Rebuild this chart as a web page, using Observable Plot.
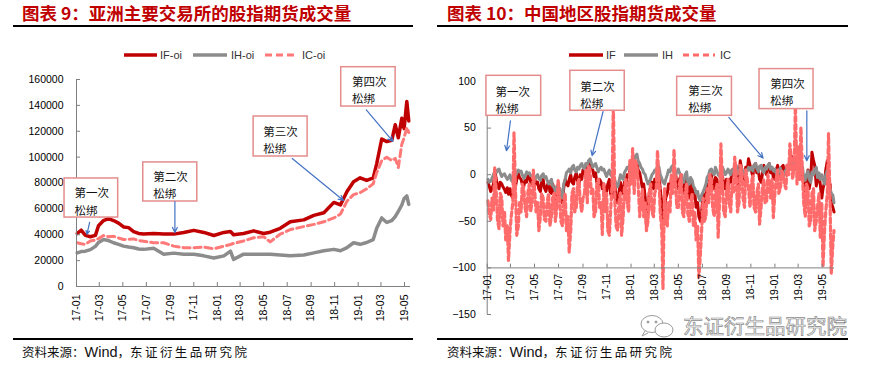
<!DOCTYPE html>
<html lang="zh">
<head>
<meta charset="utf-8">
<script src="https://cdn.jsdelivr.net/npm/d3@7"></script>
<script src="https://cdn.jsdelivr.net/npm/@observablehq/plot@0.6"></script>
<style>
  html,body{margin:0;padding:0;background:#fff;}
  #page{position:relative;width:878px;height:367px;overflow:hidden;background:#fff;}
  .title{position:absolute;top:0px;font-family:"Noto Sans CJK SC",sans-serif;font-weight:700;font-size:17.5px;line-height:26px;color:#C00000;white-space:nowrap;}
  .hr{position:absolute;height:1.5px;background:#000;}
  .src{position:absolute;top:342px;font-family:"Noto Sans CJK SC",sans-serif;font-size:12.5px;line-height:20px;color:#111;white-space:nowrap;}
  .src .lat{font-family:"Liberation Sans",Arial,sans-serif;font-size:14.5px;}
  .src .sp{letter-spacing:2.4px;}
  .chart{position:absolute;top:0;}
  #deco{position:absolute;left:0;top:0;pointer-events:none;}
  .wm{position:absolute;left:683px;top:311px;font-family:"Noto Sans CJK SC",sans-serif;font-size:20.5px;line-height:28px;color:#f2f2f2;-webkit-text-stroke:0.7px #8c8c8c;white-space:nowrap;}
</style>
</head>
<body>
<div id="page">
  <div class="title" style="left:22px">图表 9：亚洲主要交易所的股指期货成交量</div>
  <div class="title" style="left:447px">图表 10：中国地区股指期货成交量</div>
  <div class="hr" style="left:13px;top:25px;width:400px"></div>
  <div class="hr" style="left:437px;top:25px;width:411px"></div>
  <div id="left" class="chart" style="left:0px"></div>
  <div id="right" class="chart" style="left:440px"></div>
  <svg id="deco" width="878" height="367">
    <g font-family="Liberation Sans, Arial, sans-serif" font-size="11" fill="#333">
      <line x1="124" x2="157" y1="55" y2="55" stroke="#C00000" stroke-width="3.5"/>
      <text x="160" y="59">IF-oi</text>
      <line x1="193" x2="227" y1="55" y2="55" stroke="#8C8C8C" stroke-width="3.5"/>
      <text x="231" y="59">IH-oi</text>
      <line x1="265" x2="297" y1="55" y2="55" stroke="#FF7979" stroke-width="3" stroke-dasharray="7,4"/>
      <text x="302" y="59">IC-oi</text>
      <line x1="569" x2="603" y1="55" y2="55" stroke="#C00000" stroke-width="3.5"/>
      <text x="606" y="59">IF</text>
      <line x1="624" x2="658" y1="55" y2="55" stroke="#8C8C8C" stroke-width="3.5"/>
      <text x="662" y="59">IH</text>
      <line x1="683" x2="715" y1="55" y2="55" stroke="#FF6B6B" stroke-width="3" stroke-dasharray="6,4"/>
      <text x="720" y="59">IC</text>
    </g>
    <g fill="none" stroke="#9a9a9a" stroke-width="1">
      <ellipse cx="652" cy="324" rx="11" ry="8.5"/>
      <path d="M645 331 l-3 5 l6 -3"/>
      <ellipse cx="664" cy="330" rx="9" ry="7" fill="#fff"/>
      <circle cx="648" cy="322" r="1" fill="#9a9a9a"/>
      <circle cx="656" cy="322" r="1" fill="#9a9a9a"/>
    </g>
  </svg>
  <div class="wm">东证衍生品研究院</div>
  <div class="hr" style="left:13px;top:338px;width:400px"></div>
  <div class="hr" style="left:437px;top:338px;width:411px"></div>
  <div class="src" style="left:22px">资料来源：<span class="lat">Wind</span>，<span class="sp">东证衍生品研究院</span></div>
  <div class="src" style="left:447px">资料来源：<span class="lat">Wind</span>，<span class="sp">东证衍生品研究院</span></div>
</div>
<script>
// ---------- shared tick labels ----------
const monthTicks = ["2017-01-01","2017-03-01","2017-05-01","2017-07-01","2017-09-01","2017-11-01",
  "2018-01-01","2018-03-01","2018-05-01","2018-07-01","2018-09-01","2018-11-01",
  "2019-01-01","2019-03-01","2019-05-01"];

// ---------- Chart 9: open interest (left) ----------
const leftDates = ["2017-01-03","2017-01-13","2017-01-24","2017-02-06","2017-02-19","2017-02-27","2017-03-12","2017-03-25",
  "2017-04-07","2017-04-20","2017-05-03","2017-05-16","2017-05-29","2017-06-11","2017-06-24","2017-07-20","2017-08-15",
  "2017-09-10","2017-10-06","2017-11-01","2017-11-27","2017-12-23","2018-01-18","2018-02-04","2018-02-12","2018-03-10",
  "2018-04-05","2018-05-01","2018-05-18","2018-06-13","2018-07-09","2018-08-13","2018-09-08","2018-10-04","2018-10-30",
  "2018-11-16","2018-12-03","2018-12-20","2019-01-06","2019-01-23","2019-02-09","2019-02-18","2019-03-03","2019-03-16",
  "2019-03-29","2019-04-07","2019-04-15","2019-04-24","2019-04-30","2019-05-07","2019-05-12"];
const leftIF = [41000,43500,39500,38500,39500,47000,51000,52500,51000,49000,46000,45500,42500,41000,40500,41000,40500,
  40500,41800,43400,41800,39400,41800,42500,40000,41000,43000,41000,42000,45000,50000,51500,55000,57000,65000,
  63000,73500,81000,84000,82000,84000,95000,114000,112000,113000,125000,115000,130000,122000,143000,128000];
const leftIH = [26000,27000,27300,28500,31000,34000,36300,35500,33800,32500,31200,30500,30000,29000,28700,29500,25000,
  25800,25000,25000,23700,22000,23700,27300,21000,25000,25000,25000,25000,24300,23700,24300,26000,27600,28700,
  27600,30000,33800,32600,34000,36300,45000,53000,49500,51000,54000,58000,63000,68000,70000,63500];
const leftIC = [33800,33000,32600,35200,36000,37000,39400,38500,38800,37500,36300,36500,36800,35500,35000,33800,33800,
  31200,30000,30000,30400,29200,31200,32500,33300,35200,37700,38500,34500,40500,44000,46300,48000,50000,53000,
  56000,66000,71000,72500,75500,79400,88000,97300,99900,97300,99000,92000,110000,115000,123000,119000];
const leftYTicks = [0,20000,40000,60000,80000,100000,120000,140000,160000];

// ---------- Chart 10 (right): Friday readings ----------
const rightDates = [
  "2017-01-06","2017-01-13","2017-01-20","2017-01-27","2017-02-03","2017-02-10","2017-02-17","2017-02-24",
  "2017-03-03","2017-03-10","2017-03-17","2017-03-24","2017-03-31","2017-04-07","2017-04-14","2017-04-21","2017-04-28",
  "2017-05-05","2017-05-12","2017-05-19","2017-05-26","2017-06-02","2017-06-09","2017-06-16","2017-06-23","2017-06-30",
  "2017-07-07","2017-07-14","2017-07-21","2017-07-28","2017-08-04","2017-08-11","2017-08-18","2017-08-25",
  "2017-09-01","2017-09-08","2017-09-15","2017-09-22","2017-09-29","2017-10-06","2017-10-13","2017-10-20","2017-10-27",
  "2017-11-03","2017-11-10","2017-11-17","2017-11-24","2017-12-01","2017-12-08","2017-12-15","2017-12-22","2017-12-29",
  "2018-01-05","2018-01-12","2018-01-19","2018-01-26","2018-02-02","2018-02-09","2018-02-16","2018-02-23",
  "2018-03-02","2018-03-09","2018-03-16","2018-03-23","2018-03-30","2018-04-06","2018-04-13","2018-04-20","2018-04-27",
  "2018-05-04","2018-05-11","2018-05-18","2018-05-25","2018-06-01","2018-06-08","2018-06-15","2018-06-22","2018-06-29",
  "2018-07-06","2018-07-13","2018-07-20","2018-07-27","2018-08-03","2018-08-10","2018-08-17","2018-08-24","2018-08-31",
  "2018-09-07","2018-09-14","2018-09-21","2018-09-28","2018-10-05","2018-10-12","2018-10-19","2018-10-26",
  "2018-11-02","2018-11-09","2018-11-16","2018-11-23","2018-11-30","2018-12-07","2018-12-14","2018-12-21","2018-12-28",
  "2019-01-04","2019-01-11","2019-01-18","2019-01-25","2019-02-01","2019-02-08","2019-02-15","2019-02-22",
  "2019-03-01","2019-03-08","2019-03-15","2019-03-22","2019-03-29","2019-04-05","2019-04-12","2019-04-19","2019-04-26",
  "2019-05-03","2019-05-10","2019-05-17","2019-05-24","2019-05-31"];
const rightIF = [
  -12,-15,5,-12,-8,-13,-19,-21,
  -22,-18,-5,-3,-10,-6,-2,-8,-4,
  -10,-15,-8,-14,-12,-18,-10,-25,-22,
  -28,-15,-10,-5,-8,-3,-6,0,
  5,10,12,6,-2,-8,-5,-15,-20,
  -10,-20,-15,-28,-20,-15,-8,0,5,
  10,12,5,-5,-10,-55,-20,-8,
  -5,5,-15,-50,-25,-10,-5,0,-10,
  -5,-15,-8,-20,-12,-25,-35,-45,-40,
  -30,-10,-5,-12,-3,-15,-8,-10,-5,
  -5,5,12,-10,15,0,8,17,
  5,10,2,-5,0,5,8,2,-3,
  5,2,8,0,10,18,10,15,
  20,10,-10,-5,-15,24,10,-5,-10,
  -15,5,-20,-30,-40];
const rightIH = [
  -8,-4,3,5,2,0,-2,-3,
  -6,-3,2,3,0,-2,1,-1,-3,
  -2,-4,-1,-3,-6,-8,-12,-18,-20,
  -22,-10,2,6,8,5,8,10,
  8,12,15,13,10,8,6,5,2,
  2,0,-5,-10,-8,-3,2,8,12,
  18,20,15,8,2,-5,-8,0,
  5,10,0,-8,-5,5,8,2,3,
  2,-5,0,-8,-3,-12,-20,-25,-22,
  -15,-3,5,2,8,0,3,5,2,
  3,5,8,4,6,2,5,8,
  8,10,7,9,5,8,10,6,4,
  2,5,0,3,8,15,12,10,
  10,5,-2,0,-5,3,5,-3,-5,
  -5,0,-10,-20,-30];
const rightIC = [
  -42,-25,8,-48,-20,-55,-70,-92,
  -45,45,-65,-30,-10,-35,-20,-40,5,
  -40,-60,-20,-48,-30,-55,-25,-50,-5,
  -50,-30,-60,-83,-20,-40,-10,-30,
  -25,5,10,-20,-45,-10,-35,-64,-40,
  -60,-40,75,-55,-30,-65,-15,-30,15,
  28,15,-10,-30,-45,-60,-20,-40,
  -20,26,-40,-122,-50,-30,0,27,-35,
  -10,-40,-20,-42,-30,-55,-70,-110,-60,
  -50,-15,0,-35,-20,-67,33,-40,-20,
  -30,-10,19,-40,10,-25,5,-15,
  -10,-35,-20,-53,-15,-30,0,-25,-46,
  -5,-20,4,-10,10,33,-5,77,
  30,51,-30,-10,-55,-20,-60,-35,-67,
  -99,-40,44,-106,-60];

// ---------- Chart 10 (right): Tuesday readings ----------
const rightDatesTue = [
  "2017-01-03","2017-01-10","2017-01-17","2017-01-24","2017-01-31","2017-02-07","2017-02-14","2017-02-21",
  "2017-02-28","2017-03-07","2017-03-14","2017-03-21","2017-03-28","2017-04-04","2017-04-11","2017-04-18","2017-04-25",
  "2017-05-02","2017-05-09","2017-05-16","2017-05-23","2017-05-30","2017-06-06","2017-06-13","2017-06-20","2017-06-27",
  "2017-07-04","2017-07-11","2017-07-18","2017-07-25","2017-08-01","2017-08-08","2017-08-15","2017-08-22",
  "2017-08-29","2017-09-05","2017-09-12","2017-09-19","2017-09-26","2017-10-03","2017-10-10","2017-10-17","2017-10-24",
  "2017-10-31","2017-11-07","2017-11-14","2017-11-21","2017-11-28","2017-12-05","2017-12-12","2017-12-19","2017-12-26",
  "2018-01-02","2018-01-09","2018-01-16","2018-01-23","2018-01-30","2018-02-06","2018-02-13","2018-02-20",
  "2018-02-27","2018-03-06","2018-03-13","2018-03-20","2018-03-27","2018-04-03","2018-04-10","2018-04-17","2018-04-24",
  "2018-05-01","2018-05-08","2018-05-15","2018-05-22","2018-05-29","2018-06-05","2018-06-12","2018-06-19","2018-06-26",
  "2018-07-03","2018-07-10","2018-07-17","2018-07-24","2018-07-31","2018-08-07","2018-08-14","2018-08-21","2018-08-28",
  "2018-09-04","2018-09-11","2018-09-18","2018-09-25","2018-10-02","2018-10-09","2018-10-16","2018-10-23",
  "2018-10-30","2018-11-06","2018-11-13","2018-11-20","2018-11-27","2018-12-04","2018-12-11","2018-12-18","2018-12-25",
  "2019-01-01","2019-01-08","2019-01-15","2019-01-22","2019-01-29","2019-02-05","2019-02-12","2019-02-19",
  "2019-02-26","2019-03-05","2019-03-12","2019-03-19","2019-03-26","2019-04-02","2019-04-09","2019-04-16","2019-04-23",
  "2019-04-30","2019-05-07","2019-05-14","2019-05-21","2019-05-28"];
const rightIFTue = [
  -8,-18,-10,-5,-15,-10,-16,-14,
  -15,-25,-12,2,-5,-12,-8,0,-10,
  -5,-8,-18,-5,-18,-8,-20,-15,-30,
  -15,-30,-5,-12,0,-10,2,-10,
  -5,2,5,14,5,2,-12,-8,-10,
  -18,-5,-25,-10,-30,-8,-20,-10,-3,
  0,5,12,2,-15,-25,-40,-12,
  -15,-10,0,-30,-40,-20,-15,-8,2,
  -15,0,-20,-5,-25,-8,-20,-30,-50,
  -20,-25,-15,0,-15,-5,-18,-2,-15,
  -12,-8,0,5,-5,5,-5,5,
  10,-2,12,5,-8,10,0,12,5,
  -5,10,-3,10,2,5,20,5,
  8,25,0,-18,5,-5,15,-12,0,
  -25,-8,15,-10,-35];
const rightIHTue = [
  -5,-7,0,2,6,-2,1,-5,
  0,-8,-1,5,4,-4,3,2,-1,
  -5,0,-6,1,-2,-10,-5,-14,-12,
  -15,-25,-5,4,2,10,3,6,
  12,6,10,17,8,12,3,8,6,
  -2,5,-2,-6,-13,0,-5,5,6,
  14,16,22,12,6,0,-10,-4,
  2,4,8,-4,-10,0,3,10,0,
  6,-2,-8,3,-10,-6,-15,-18,-28,
  -18,-10,0,6,0,4,-2,8,0,
  6,0,3,10,1,7,0,4,
  5,4,12,3,10,2,6,12,8,
  6,-2,7,-2,5,10,16,6,
  14,2,8,-6,4,-8,0,8,2,
  0,-10,5,-15,-22];
const rightICTue = [
  -28,-48,-38,-20,-58,-25,-40,-55,
  -60,-30,-20,-55,-40,-15,-45,-10,-30,
  -20,-30,-45,-25,-50,-20,-45,-20,-35,
  -25,-55,-20,-45,-60,-15,-35,-5,
  -40,-20,-30,5,-15,-40,-5,-30,-10,
  -20,-65,-10,-30,-60,-20,-45,-5,-40,
  -10,-20,10,-45,-15,-30,-50,-10,
  -45,-15,-5,-60,-15,-55,-40,-20,-10,
  -35,0,-45,-10,-50,-20,-40,-55,-85,
  -25,-45,-30,-5,-45,-10,-25,-10,-45,
  -5,-40,-20,0,-30,5,-35,-5,
  -35,0,-40,-10,-35,-5,-30,-10,-5,
  -20,5,-15,0,-15,0,15,10,
  -10,-5,0,-45,-15,-50,-15,-50,-20,
  -30,-60,-20,-30,-75];
const rightYTicks = [-150,-100,-50,0,50,100];

// ---------- annotations (in data coordinates) ----------
const notesL = [
  {label:"第一次\n松绑", x1:"2016-12-01", x2:"2017-04-19", y1:53300, y2:83500, tx:"2016-12-27", ty:66500},
  {label:"第二次\n松绑", x1:"2017-06-23", x2:"2017-11-10", y1:65700, y2:95900, tx:"2017-07-19", ty:79200},
  {label:"第三次\n松绑", x1:"2018-04-05", x2:"2018-08-23", y1:100500, y2:131400, tx:"2018-04-30", ty:114000},
  {label:"第四次\n松绑", x1:"2018-11-18", x2:"2019-04-08", y1:139100, y2:169500, tx:"2018-12-16", ty:152500}];
const arrowsL = [
  {x1:"2017-02-04", y1:49500, x2:"2017-01-28", y2:40200},
  {x1:"2017-09-13", y1:65700, x2:"2017-09-13", y2:41700},
  {x1:"2018-07-14", y1:98900, x2:"2018-11-24", y2:66500},
  {x1:"2019-01-22", y1:136600, x2:"2019-04-01", y2:112100}];
const notesR = [
  {label:"第一次\n松绑", x1:"2016-12-30", x2:"2017-05-18", y1:63.2, y2:106.1, tx:"2017-01-22", ty:81.5},
  {label:"第二次\n松绑", x1:"2017-07-31", x2:"2017-12-16", y1:68.6, y2:111.5, tx:"2017-08-25", ty:86.8},
  {label:"第三次\n松绑", x1:"2018-04-28", x2:"2018-09-14", y1:63.2, y2:105, tx:"2018-05-26", ty:82},
  {label:"第四次\n松绑", x1:"2018-11-23", x2:"2019-04-09", y1:70.4, y2:113.3, tx:"2018-12-20", ty:90}];
const arrowsR = [
  {x1:"2017-03-01", y1:57.9, x2:"2017-02-19", y2:25.7},
  {x1:"2017-10-22", y1:67.8, x2:"2017-09-24", y2:20.4},
  {x1:"2018-09-06", y1:61.4, x2:"2018-12-02", y2:17.9},
  {x1:"2019-03-23", y1:68.6, x2:"2019-03-23", y2:15}];

// ---------- build ----------
const D = s => new Date(s);
const ticks = monthTicks.map(D);
const fmt = d3.utcFormat("%y-%m");
const rowsL = leftDates.map((d,i) => ({date:D(d), IF:leftIF[i], IH:leftIH[i], IC:leftIC[i]}));
const rowsR = rightDates.map((d,i) => ({date:D(d), IF:rightIF[i], IH:rightIH[i], IC:rightIC[i]}))
  .concat(rightDatesTue.map((d,i) => ({date:D(d), IF:rightIFTue[i], IH:rightIHTue[i], IC:rightICTue[i]})))
  .sort((a,b) => a.date - b.date);
const prepN = a => a.map(n => ({...n, x1:D(n.x1), x2:D(n.x2), tx:D(n.tx)}));
const prepA = a => a.map(n => ({...n, x1:D(n.x1), x2:D(n.x2)}));
const axisGray = "#7f7f7f";
const baseStyle = {background:"transparent", fontFamily:"'Liberation Sans', Arial, sans-serif", fontSize:"10.5px", color:"#000", overflow:"visible"};

function noteMarks(notes, arrows) {
  return [
    Plot.rect(prepN(notes), {x1:"x1", x2:"x2", y1:"y1", y2:"y2", fill:"#fff", stroke:"#E58C8C", strokeWidth:1.5}),
    Plot.text(prepN(notes), {x:"tx", y:"ty", text:"label", textAnchor:"start", lineAnchor:"middle", lineHeight:1.5,
      fontSize:11.5, fontFamily:"'Noto Sans CJK SC', sans-serif", fill:"#111"}),
    Plot.arrow(prepA(arrows), {x1:"x1", y1:"y1", x2:"x2", y2:"y2", stroke:"#4472C4", strokeWidth:1.2, headLength:7, headAngle:50})
  ];
}

const left = Plot.plot({
  width:440, height:340, marginLeft:76, marginRight:30, marginTop:79, marginBottom:54,
  style: baseStyle,
  x: {type:"utc", domain:[ticks[0], ticks[ticks.length-1]], range:[76,404]},
  y: {domain:[0,160000], range:[286,79]},
  marks: [
    Plot.lineY(rowsL, {x:"date", y:"IF", stroke:"#C00000", strokeWidth:3.5}),
    Plot.lineY(rowsL, {x:"date", y:"IH", stroke:"#8C8C8C", strokeWidth:3.5}),
    Plot.lineY(rowsL, {x:"date", y:"IC", stroke:"#FF7979", strokeWidth:3, strokeDasharray:"7,4"}),
    Plot.ruleY([0], {stroke:axisGray}),
    Plot.ruleX([ticks[0]], {stroke:axisGray}),
    Plot.axisY({ticks:leftYTicks, tickFormat:d3.format("d"), tickSize:-4, tickPadding:17, stroke:axisGray}),
    Plot.axisX({ticks:ticks, tickFormat:fmt, tickRotate:-90, tickSize:-4, tickPadding:12, stroke:axisGray}),
    ...noteMarks(notesL, arrowsL)
  ]
});
document.getElementById("left").appendChild(left);

const right = Plot.plot({
  width:438, height:340, marginLeft:47, marginRight:44, marginTop:81, marginBottom:26,
  style: baseStyle,
  x: {type:"utc", axis:null, domain:[ticks[0], ticks[ticks.length-1]], range:[46.7,381.7]},
  y: {domain:[-150,100], range:[314,81]},
  marks: [
    Plot.lineY(rowsR, {x:"date", y:"IF", stroke:"#C00000", strokeWidth:3}),
    Plot.lineY(rowsR, {x:"date", y:"IH", stroke:"#8C8C8C", strokeWidth:3}),
    Plot.lineY(rowsR, {x:"date", y:"IC", stroke:"#FF6B6B", strokeWidth:3.2, strokeDasharray:"5,3"}),
    Plot.ruleX([ticks[0]], {stroke:axisGray}),
    Plot.ruleY([-100], {stroke:axisGray}),
    Plot.axisY({ticks:rightYTicks, tickFormat:d3.format("d"), tickSize:-4, tickPadding:15.7, stroke:axisGray}),
    Plot.ruleX(ticks, {x:d=>d, y1:-100, y2:-96, stroke:axisGray}),
    Plot.text(ticks, {x:d=>d, y:-100, text:d=>fmt(d), rotate:-90, textAnchor:"end", dy:6, fill:"#000"}),
    ...noteMarks(notesR, arrowsR)
  ]
});
document.getElementById("right").appendChild(right);
</script>
</body>
</html>
